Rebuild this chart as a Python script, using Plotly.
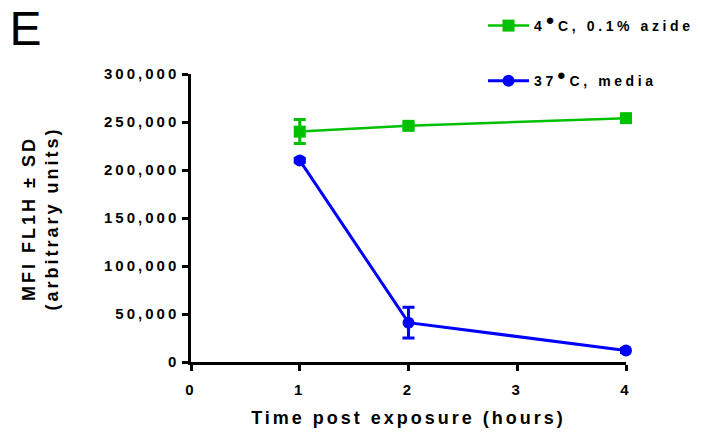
import plotly.graph_objects as go

# Time points (hours post exposure)
hours = [1, 2, 4]

# 4 °C, 0.1% azide: mean MFI and SD
azide_mean = [240000, 246000, 254000]
azide_sd = [12500, 3000, 2000]

# 37 °C, media: mean MFI and SD
media_mean = [210000, 41000, 12000]
media_sd = [2000, 16000, 2000]

x_ticks = [0, 1, 2, 3, 4]
y_ticks = [0, 50000, 100000, 150000, 200000, 250000, 300000]

W, H = 701, 434
L, R, T, B = 191, 75, 74, 72
PW, PH = W - L - R, H - T - B


def px_x(px):
    return (px - L) / PW


def px_y(py):
    return (H - B - py) / PH


FONT = "Liberation Sans, Arial, sans-serif"
GREEN = "#00C000"
BLUE = "#0000FF"
DEG = "<sup><span style='font-size:15px'>●</span></sup>"

fig = go.Figure()

fig.add_trace(go.Scatter(
    x=hours, y=azide_mean, name="4" + DEG + "C, 0.1% azide",
    mode="lines+markers", legendgroup="azide",
    line=dict(color=GREEN, width=2.5),
    marker=dict(symbol="square", size=12, color=GREEN),
    error_y=dict(type="data", array=azide_sd, visible=True,
                 color=GREEN, thickness=3, width=6),
    cliponaxis=False,
))

fig.add_trace(go.Scatter(
    x=hours, y=media_mean, name="37" + DEG + "C, media",
    mode="lines+markers", legendgroup="media",
    line=dict(color=BLUE, width=3),
    marker=dict(symbol="circle", size=12, color=BLUE),
    error_y=dict(type="data", array=media_sd, visible=True,
                 color=BLUE, thickness=3, width=6),
    cliponaxis=False,
))

axis_common = dict(
    showline=True, linecolor="black", linewidth=2.5,
    ticks="outside", ticklen=6, tickwidth=2.5, tickcolor="black",
    showgrid=False, zeroline=False,
    tickfont=dict(family=FONT, size=15, color="black", weight="bold"),
)

fig.update_xaxes(
    range=[0, 4], tickvals=x_ticks, ticktext=[str(v) for v in x_ticks],
    ticklabelstandoff=6,
    title=dict(text="Time post exposure (hours)",
               font=dict(family=FONT, size=18, color="black", weight="bold"),
               standoff=15),
    **axis_common,
)
fig.update_yaxes(
    range=[0, 300000], tickvals=y_ticks, tickformat=",d",
    **axis_common,
)

# Two-line y-axis title
fig.add_annotation(
    text="MFI FL1H ± SD<br>(arbitrary units)",
    xref="paper", yref="paper", x=px_x(40), y=px_y(219),
    xanchor="center", yanchor="middle", textangle=-90, showarrow=False,
    font=dict(family=FONT, size=18, color="black", weight="bold"),
)

# Panel letter
fig.add_annotation(
    text="E", xref="paper", yref="paper", x=px_x(9), y=px_y(0),
    xanchor="left", yanchor="top", showarrow=False,
    font=dict(family=FONT, size=48, color="black"),
)

fig.update_layout(
    width=W, height=H,
    margin=dict(l=L, r=R, t=T, b=B, autoexpand=False),
    paper_bgcolor="white", plot_bgcolor="white",
    showlegend=True,
    legend=dict(
        x=px_x(483), y=px_y(10), xanchor="left", yanchor="top",
        traceorder="grouped", tracegroupgap=34, itemwidth=41,
        bgcolor="rgba(0,0,0,0)",
        font=dict(family=FONT, size=14, color="black", weight="bold"),
    ),
)

# Wide letter spacing for the bold labels; the legend box is left unclipped
# so the widened entries stay fully visible.
spacing_js = (
    "var s=document.createElement('style');"
    "s.textContent='.main-svg text{letter-spacing:3px;}"
    ".main-svg .legend text{letter-spacing:3.6px;}"
    ".main-svg .annotation text{letter-spacing:3px;}"
    ".main-svg .legend .scrollbox{clip-path:none !important;}';"
    "document.head.appendChild(s);"
)

fig.write_html("out.html", post_script=spacing_js)
